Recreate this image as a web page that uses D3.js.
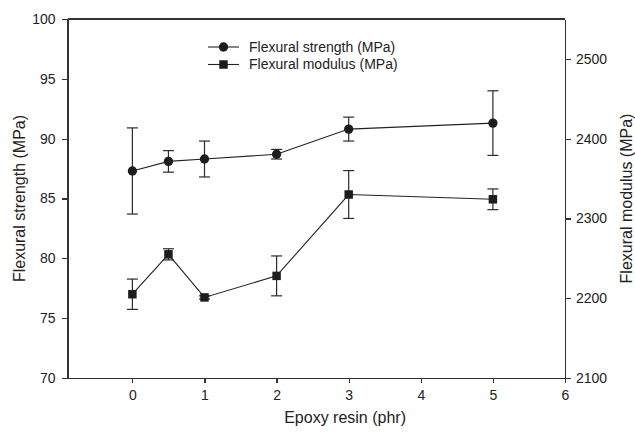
<!DOCTYPE html>
<html>
<head>
<meta charset="utf-8">
<script src="https://cdn.jsdelivr.net/npm/d3@7"></script>
<style>
  html, body { margin: 0; padding: 0; background: #fff; }
  svg { display: block; font-family: "Liberation Sans", Arial, sans-serif; }
  .axis path, .axis line { stroke: #333; stroke-width: 1.2; shape-rendering: crispEdges; }
  .axis text { fill: #222; font-size: 14px; }
</style>
</head>
<body>
<svg id="chart" width="635" height="433"></svg>
<script>
// Epoxy resin content (phr)
const epoxy = [0, 0.5, 1, 2, 3, 5];
// Flexural strength (MPa) and its standard deviation
const strength = [87.3, 88.1, 88.3, 88.7, 90.8, 91.3];
const strengthErr = [3.6, 0.9, 1.5, 0.4, 1.0, 2.7];
// Flexural modulus (MPa) and its standard deviation
const modulus = [2205, 2255, 2201, 2228, 2330, 2324];
const modulusErr = [19, 7, 2, 25, 30, 13];
// Axis ticks
const xTicks = [0, 1, 2, 3, 4, 5, 6];
const leftTicks = [70, 75, 80, 85, 90, 95, 100];
const rightTicks = [2100, 2200, 2300, 2400, 2500];
const seriesNames = ["Flexural strength (MPa)", "Flexural modulus (MPa)"];

const svg = d3.select("#chart");
const plotL = 67.5, plotR = 565, plotT = 19, plotB = 378;

const x = d3.scaleLinear().domain([-0.9, 6]).range([plotL, plotR]);
const yL = d3.scaleLinear().domain([70, 100]).range([plotB, plotT]);
const yR = d3.scaleLinear().domain([2100, 2550]).range([plotB, plotT]);

// Frame: top border
svg.append("line")
  .attr("x1", plotL).attr("x2", plotR).attr("y1", plotT).attr("y2", plotT)
  .attr("stroke", "#333").attr("stroke-width", 1.2).attr("shape-rendering", "crispEdges");

// Axes
svg.append("g").attr("class", "axis")
  .attr("transform", `translate(0,${plotB})`)
  .call(d3.axisBottom(x).tickValues(xTicks).tickFormat(d3.format("d")).tickSizeInner(5).tickSizeOuter(0).tickPadding(7));

svg.append("g").attr("class", "axis")
  .attr("transform", `translate(${plotL},0)`)
  .call(d3.axisLeft(yL).tickValues(leftTicks).tickFormat(d3.format("d")).tickSizeInner(6).tickSizeOuter(0).tickPadding(6));

svg.append("g").attr("class", "axis")
  .attr("transform", `translate(${plotR},0)`)
  .call(d3.axisRight(yR).tickValues(rightTicks).tickFormat(d3.format("d")).tickSizeInner(6).tickSizeOuter(0).tickPadding(5));

// Axis titles
svg.append("text")
  .attr("x", x(2.95)).attr("y", 423)
  .attr("text-anchor", "middle").attr("font-size", 16).attr("fill", "#222")
  .text("Epoxy resin (phr)");

svg.append("text")
  .attr("transform", `translate(25,${(plotT + plotB) / 2}) rotate(-90)`)
  .attr("text-anchor", "middle").attr("font-size", 16).attr("fill", "#222")
  .text("Flexural strength (MPa)");

svg.append("text")
  .attr("transform", `translate(632,${(plotT + plotB) / 2}) rotate(-90)`)
  .attr("text-anchor", "middle").attr("font-size", 16).attr("fill", "#222")
  .text("Flexural modulus (MPa)");

const markColor = "#1c1c1c";
const capW = 5.5;

function drawSeries(vals, errs, yScale, shape) {
  const pts = epoxy.map((d, i) => ({ x: d, y: vals[i], e: errs[i] }));
  const g = svg.append("g");

  // Error bars
  const eb = g.selectAll("g.err").data(pts).enter().append("g").attr("class", "err")
    .attr("stroke", "#2a2a2a").attr("stroke-width", 1.2);
  eb.append("line")
    .attr("x1", d => x(d.x)).attr("x2", d => x(d.x))
    .attr("y1", d => yScale(d.y - d.e)).attr("y2", d => yScale(d.y + d.e));
  eb.append("line")
    .attr("x1", d => x(d.x) - capW).attr("x2", d => x(d.x) + capW)
    .attr("y1", d => yScale(d.y + d.e)).attr("y2", d => yScale(d.y + d.e));
  eb.append("line")
    .attr("x1", d => x(d.x) - capW).attr("x2", d => x(d.x) + capW)
    .attr("y1", d => yScale(d.y - d.e)).attr("y2", d => yScale(d.y - d.e));

  // Connecting line
  g.append("path").datum(pts)
    .attr("fill", "none").attr("stroke", "#222").attr("stroke-width", 1.1)
    .attr("d", d3.line().x(d => x(d.x)).y(d => yScale(d.y)));

  // Markers
  const sym = d3.symbol().type(shape).size(shape === d3.symbolCircle ? 68 : 72);
  g.selectAll("path.mk").data(pts).enter().append("path").attr("class", "mk")
    .attr("transform", d => `translate(${x(d.x)},${yScale(d.y)})`)
    .attr("d", sym).attr("fill", markColor);
}

drawSeries(strength, strengthErr, yL, d3.symbolCircle);
drawSeries(modulus, modulusErr, yR, d3.symbolSquare);

// Legend
const legend = svg.append("g");
const shapes = [d3.symbolCircle, d3.symbolSquare];
seriesNames.forEach((name, i) => {
  const ly = 47 + i * 17.5;
  legend.append("line")
    .attr("x1", 208).attr("x2", 239).attr("y1", ly).attr("y2", ly)
    .attr("stroke", "#222").attr("stroke-width", 1.1);
  legend.append("path")
    .attr("transform", `translate(223.5,${ly})`)
    .attr("d", d3.symbol().type(shapes[i]).size(i === 0 ? 68 : 72)())
    .attr("fill", markColor);
  legend.append("text")
    .attr("x", 249).attr("y", ly).attr("dy", "0.35em")
    .attr("font-size", 14).attr("fill", "#222")
    .text(name);
});
</script>
</body>
</html>
